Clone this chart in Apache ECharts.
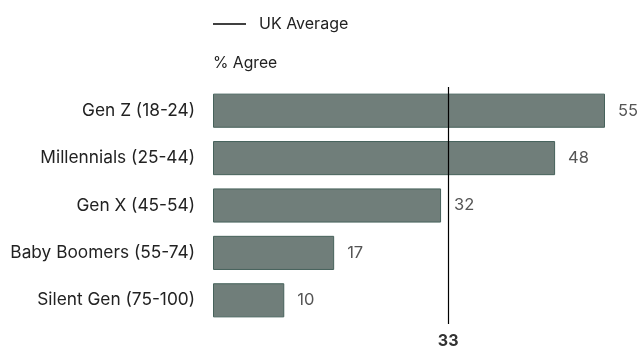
<!DOCTYPE html>
<html>
<head>
<meta charset="utf-8">
<script src="https://cdn.jsdelivr.net/npm/echarts@6/dist/echarts.min.js"></script>
<style>
  html, body { margin: 0; padding: 0; background: #fff; }
  #main { width: 640px; height: 347px; }
</style>
</head>
<body>
<div id="main"></div>
<script>
// 数据
var categories = ['Gen Z (18-24)', 'Millennials (25-44)', 'Gen X (45-54)', 'Baby Boomers (55-74)', 'Silent Gen (75-100)']
var agreeValues = [55, 48, 32, 17, 10]
var ukAverage = 33

var myChart = echarts.init(document.getElementById('main'))

var option = {
  animation: false,
  textStyle: { fontFamily: 'Inter' },
  title: {
    text: '% Agree',
    left: 208,
    top: 50,
    textStyle: { fontSize: 15.7, fontWeight: 'normal', color: '#222', fontFamily: 'Inter' }
  },
  legend: {
    data: [{ name: 'UK Average', icon: 'rect' }],
    left: 213,
    top: 16,
    padding: 0,
    itemWidth: 33,
    itemHeight: 1.5,
    textStyle: { fontSize: 16, color: '#222', padding: [0, 0, 0, 8], fontFamily: 'Inter' }
  },
  grid: {
    left: 213,
    right: 35,
    top: 87,
    bottom: 23
  },
  xAxis: {
    type: 'value',
    min: 0,
    max: 55,
    show: false
  },
  yAxis: {
    type: 'category',
    data: categories,
    inverse: true,
    axisLine: { show: false },
    axisTick: { show: false },
    axisLabel: { margin: 18, fontSize: 17.3, color: '#222', fontFamily: 'Inter' }
  },
  series: [
    {
      name: '% Agree',
      type: 'bar',
      data: agreeValues,
      barCategoryGap: '28%',
      itemStyle: { color: '#707e7a', borderColor: '#46625b', borderWidth: 1 },
      label: { show: true, position: 'right', distance: 13, fontSize: 16.5, color: '#555', fontFamily: 'Inter' },
      markLine: {
        silent: true,
        symbol: 'none',
        lineStyle: { color: '#000', width: 1.2, type: 'solid' },
        label: { position: 'end', distance: 9, fontSize: 16, fontWeight: 'bold', color: '#333', formatter: '{c}', fontFamily: 'Inter' },
        data: [{ xAxis: ukAverage }]
      }
    },
    {
      // 只用于图例
      name: 'UK Average',
      type: 'line',
      data: [],
      symbol: 'none',
      lineStyle: { color: '#000', width: 1.2 },
      itemStyle: { color: '#000' }
    }
  ]
}

myChart.setOption(option)
</script>
</body>
</html>
